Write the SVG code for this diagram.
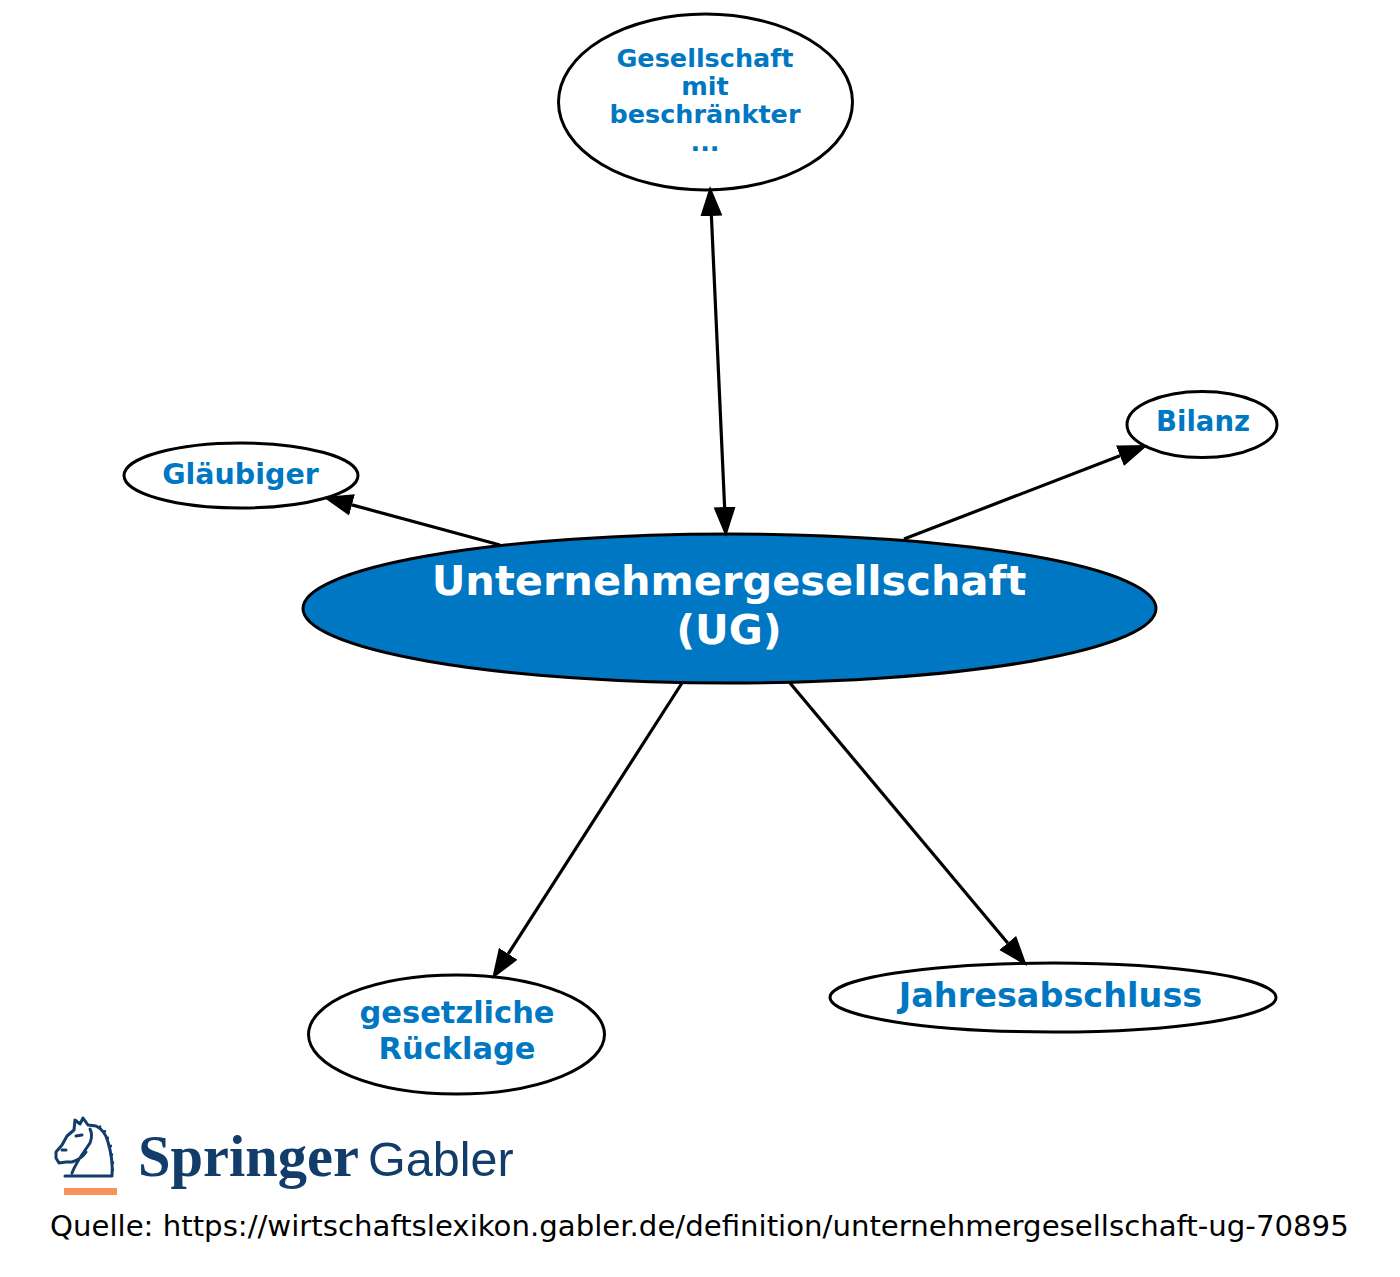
<svg xmlns="http://www.w3.org/2000/svg" width="1400" height="1277" viewBox="0 0 1400 1277">
<style>
.node ellipse{fill:#ffffff;stroke:#000000;stroke-width:3}
.node text{font-family:"DejaVu Sans",Verdana,sans-serif;font-weight:bold;fill:#0077c2;text-anchor:middle}
#n_center ellipse{fill:#0077c2}
#n_center text{fill:#ffffff}
.edge{stroke:#000000;stroke-width:3.2;fill:none;marker-end:url(#arr)}
.logo{fill:#123d6b}
</style>
<defs>
<marker id="arr" markerUnits="userSpaceOnUse" markerWidth="32" markerHeight="24" refX="0" refY="11" orient="auto-start-reverse" viewBox="0 0 32 22">
<path d="M0,0 L30,11 L0,22 z" fill="#000000"/>
</marker>
</defs>
<rect width="1400" height="1277" fill="#ffffff"/>

<g id="n_center" class="node">
<ellipse cx="729.5" cy="608.5" rx="426.5" ry="74.5"/>
<text font-size="41.5"><tspan x="729" y="594.5">Unternehmergesellschaft</tspan><tspan x="729" y="643.5">(UG)</tspan></text>
</g>
<g id="n_gmbh" class="node">
<ellipse cx="705.5" cy="102" rx="147" ry="88"/>
<text font-size="25.5"><tspan x="705" y="67">Gesellschaft</tspan><tspan x="705" y="95">mit</tspan><tspan x="705" y="123">beschränkter</tspan><tspan x="705" y="151">...</tspan></text>
</g>
<g id="n_glaeubiger" class="node">
<ellipse cx="241" cy="475.5" rx="117" ry="32.5"/>
<text x="240.5" y="483.5" font-size="28.5">Gläubiger</text>
</g>
<g id="n_bilanz" class="node">
<ellipse cx="1202" cy="424.5" rx="75" ry="33"/>
<text x="1203" y="431" font-size="27.5">Bilanz</text>
</g>
<g id="n_ruecklage" class="node">
<ellipse cx="456.5" cy="1034.5" rx="148" ry="59.5"/>
<text font-size="30.5"><tspan x="457" y="1023">gesetzliche</tspan><tspan x="457" y="1059">Rücklage</tspan></text>
</g>
<g id="n_jahresabschluss" class="node">
<ellipse cx="1053" cy="997.5" rx="223" ry="34.5"/>
<text x="1050.5" y="1007" font-size="33.5">Jahresabschluss</text>
</g>

<g id="connectors">
<path class="edge" d="M724.6,507 L711.4,216" style="marker-start:url(#arr)"/>
<path class="edge" d="M500,545 L352,504.9"/>
<path class="edge" d="M904,539 L1120,455.8"/>
<path class="edge" d="M682,683 L508.2,953.8"/>
<path class="edge" d="M790,683 L1007.7,943"/>
</g>

<g id="logo">
<path d="M65,1176 L112,1176 M72,1173 C76,1162 84,1152 90,1143 C92,1138 92,1133 90,1129 M108,1142 C106,1134 102,1129 96,1126 L88,1125 L83,1118 L80,1124 L75,1120 L74,1130 L67,1136 L62,1145 L56,1152 L56,1158 L59,1163 L66,1162 L72,1162 C78,1160 83,1157 86,1152 M108,1142 C111,1152 113,1163 112,1176 M62,1150 L66,1150 M76,1136 L82,1135" fill="none" stroke="#123d6b" stroke-width="3" stroke-linejoin="round" stroke-linecap="round"/>
<path d="M98,1128 l3,-2 M103,1132 l3,-1 M106,1138 l3,0 M109,1146 l3,0 M110,1154 l3,1 M111,1162 l3,1 M111,1170 l3,0" stroke="#123d6b" stroke-width="2.5" fill="none"/>
<rect x="64" y="1188" width="53" height="7" fill="#f6925a"/>
<text class="logo" x="138" y="1176" font-family="'Liberation Serif','Times New Roman',serif" font-weight="bold" font-size="58.5">Springer</text>
<text class="logo" x="368" y="1176" font-family="'Liberation Sans',Arial,sans-serif" font-size="48.5">Gabler</text>
</g>

<text x="50" y="1236" font-family="'DejaVu Sans',Verdana,sans-serif" font-size="29.2" fill="#000000">Quelle: https://wirtschaftslexikon.gabler.de/definition/unternehmergesellschaft-ug-70895</text>
</svg>
